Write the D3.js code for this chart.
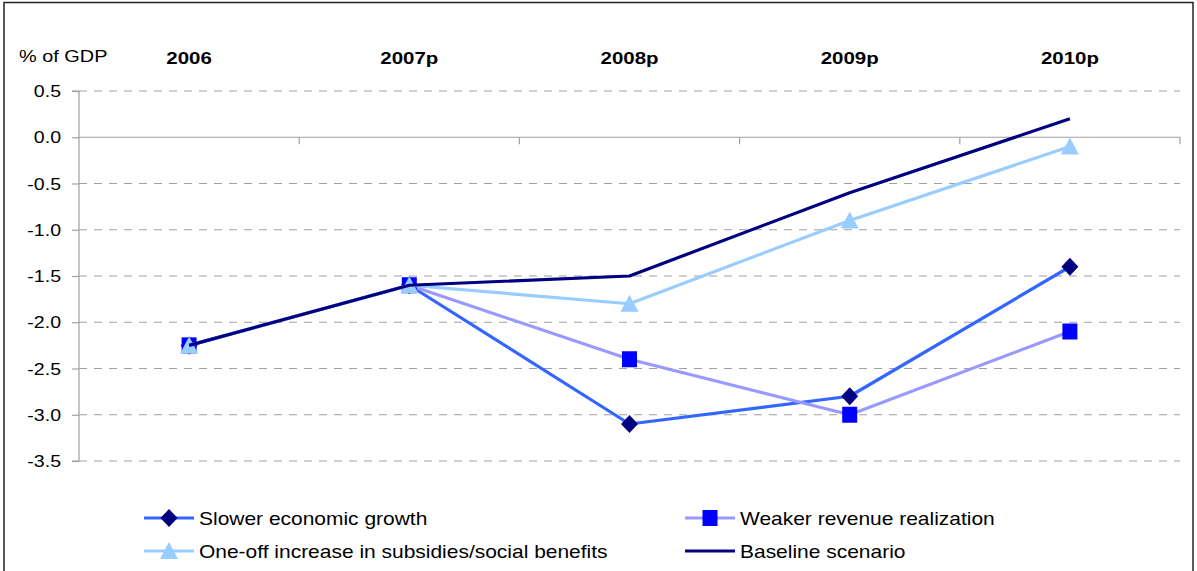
<!DOCTYPE html>
<html><head><meta charset="utf-8">
<script src="https://cdn.jsdelivr.net/npm/d3@7/dist/d3.min.js"></script>
<style>body{margin:0;background:#fff}svg text{font-family:"Liberation Sans",Arial,sans-serif;}</style>
</head><body><svg id="c" width="1197" height="571"></svg>
<script>
const categories = ["2006","2007p","2008p","2009p","2010p"];
const slowerGrowth = [-2.25,-1.6,-3.1,-2.8,-1.4];
const weakerRevenue = [-2.25,-1.6,-2.4,-3.0,-2.1];
const oneOffIncrease = [-2.25,-1.6,-1.8,-0.9,-0.1];
const baseline = [-2.25,-1.6,-1.5,-0.6,0.2];
const yTicks = [0.5,0.0,-0.5,-1.0,-1.5,-2.0,-2.5,-3.0,-3.5];
const seriesNames = ["Slower economic growth","Weaker revenue realization","One-off increase in subsidies/social benefits","Baseline scenario"];

const svg = d3.select("#c");
function txt(g, x, y, s, anchor, bold, sx, fs){
  const t = g.append("g").attr("transform",`translate(${x},${y}) scale(${sx||1.21},1)`);
  t.append("text").attr("text-anchor",anchor||"start").attr("font-size",fs||16.5)
   .attr("font-weight",bold?"bold":"normal").attr("fill","#000").text(s);
}
const fmt = v => d3.format(".1f")(v).replace("\u2212","-");
// outer border
svg.append("rect").attr("x",4).attr("y",2.5).attr("width",1189).attr("height",580)
  .attr("fill","none").attr("stroke","#222").attr("stroke-width",1.5);

const L=79,R=1180,T=91,B=461;
const x = d3.scaleBand().domain(categories).range([L,R]);
const y = d3.scaleLinear().domain([-3.5,0.5]).range([B,T]);
const cx = c => x(c)+x.bandwidth()/2;

// gridlines
svg.append("g").selectAll("line").data(yTicks.filter(v=>v!==0)).join("line")
  .attr("x1",L).attr("x2",R).attr("y1",d=>y(d)).attr("y2",d=>y(d))
  .attr("stroke","#a0a0a0").attr("stroke-width",1.2).attr("stroke-dasharray","8,7");
// y axis
const ya = svg.append("g").attr("transform",`translate(${L},0)`)
  .call(d3.axisLeft(y).tickValues(yTicks).tickSize(7).tickFormat(fmt));
ya.selectAll("path,line").attr("stroke","#a0a0a0").attr("stroke-width",1.2);
ya.select(".domain").attr("d",`M-7,${T}H0V${B}H-7`);
ya.selectAll("text").remove();
yTicks.forEach(v=>txt(svg,61,y(v)+6,fmt(v),"end",false,1.15,17));
// zero line with category ticks
svg.append("line").attr("x1",L).attr("x2",R).attr("y1",y(0)).attr("y2",y(0))
  .attr("stroke","#a0a0a0").attr("stroke-width",1.2);
svg.append("g").selectAll("line").data(categories.slice(1).map(c=>x(c)).concat([R])).join("line")
  .attr("x1",d=>d).attr("x2",d=>d).attr("y1",y(0)).attr("y2",y(0)+7)
  .attr("stroke","#a0a0a0").attr("stroke-width",1.2);

// labels
txt(svg,19,62,"% of GDP","start",false,1.17,17);
categories.forEach(c=>txt(svg,cx(c),64,c,"middle",true,1.19,17.2));

const line = d3.line().x((d,i)=>cx(categories[i])).y(d=>y(d));
const series = [
  {name:seriesNames[0],vals:slowerGrowth,lc:"#3366FF",mk:"diamond",mc:"#000080"},
  {name:seriesNames[1],vals:weakerRevenue,lc:"#9999FF",mk:"square",mc:"#0000FF"},
  {name:seriesNames[2],vals:oneOffIncrease,lc:"#99CCFF",mk:"triangle",mc:"#99CCFF"},
  {name:seriesNames[3],vals:baseline,lc:"#000080",mk:null,mc:null}
];
function marker(g,type,px,py,col){
  if(type==="diamond") g.append("path").attr("d",`M${px},${py-9}L${px+8.5},${py}L${px},${py+9}L${px-8.5},${py}Z`).attr("fill",col);
  else if(type==="square") g.append("rect").attr("x",px-7.5).attr("y",py-8).attr("width",15).attr("height",16).attr("fill",col);
  else if(type==="triangle") g.append("path").attr("d",`M${px},${py-9}L${px+9},${py+8}L${px-9},${py+8}Z`).attr("fill",col);
}
series.forEach(s=>{
  svg.append("path").datum(s.vals).attr("d",line).attr("fill","none")
    .attr("stroke",s.lc).attr("stroke-width",3.2).attr("stroke-linejoin","round");
  if(s.mk){ const g=svg.append("g"); s.vals.forEach((v,i)=>marker(g,s.mk,cx(categories[i]),y(v),s.mc)); }
});

// legend
const legPos=[[144,518],[685,518],[144,551],[685,551]];
series.forEach((s,i)=>{
  const [lx,ly]=legPos[i];
  svg.append("line").attr("x1",lx).attr("x2",lx+50).attr("y1",ly).attr("y2",ly)
    .attr("stroke",s.lc).attr("stroke-width",3.2);
  if(s.mk){ const g=svg.append("g"); marker(g,s.mk,lx+25,ly,s.mc);}
  txt(svg,lx+55,ly+6.5,s.name,"start",false,1.165,18);
});
</script></body></html>
